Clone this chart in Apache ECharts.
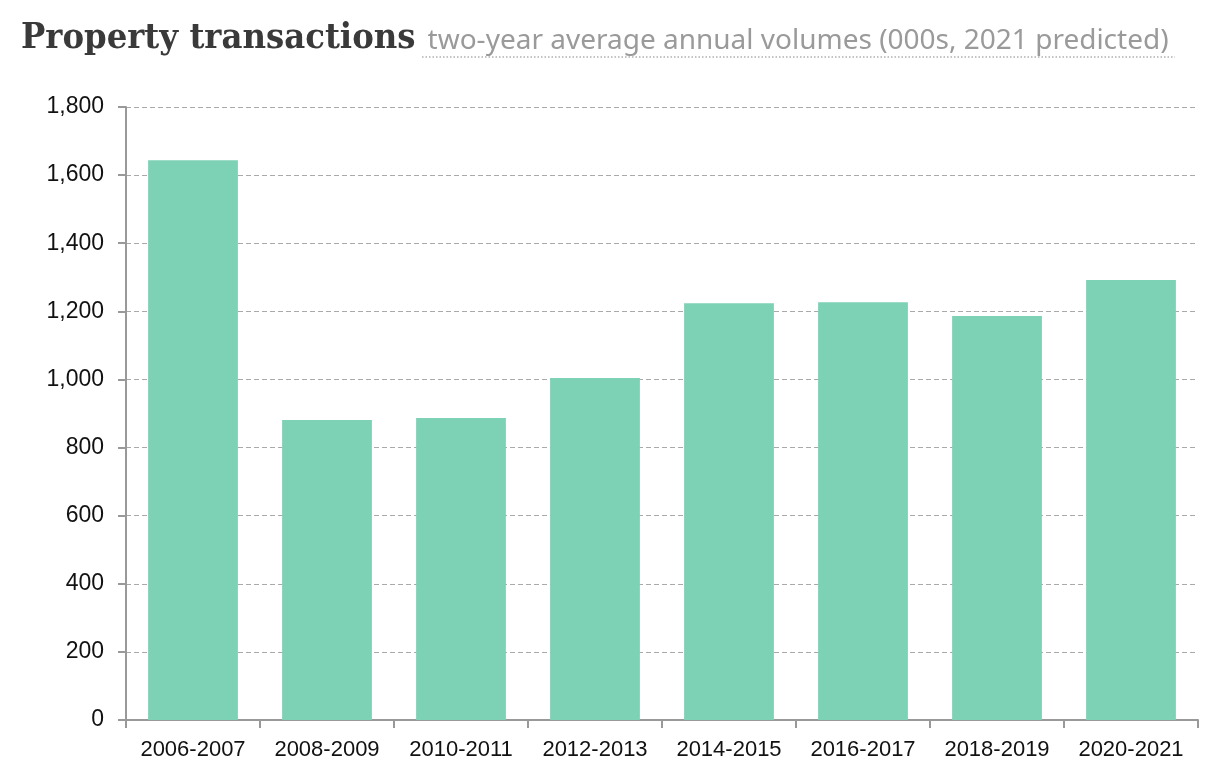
<!DOCTYPE html>
<html><head><meta charset="utf-8">
<script src="https://cdn.jsdelivr.net/npm/echarts@6/dist/echarts.min.js"></script>
<style>html,body{margin:0;padding:0;background:#fff}#c{width:1228px;height:780px}</style>
</head><body><div id="c"></div>
<script>
var categories = ['2006-2007','2008-2009','2010-2011','2012-2013','2014-2015','2016-2017','2018-2019','2020-2021'];
var volumes = [1644, 881, 887, 1004, 1224, 1227, 1186, 1292];
var titleMain = 'Property transactions';
var titleSub = 'two-year average annual volumes (000s, 2021 predicted)';

var chart = echarts.init(document.getElementById('c'));
chart.setOption({
  animation: false,
  title: {
    text: '{a|' + titleMain + '}{s|}{b|' + titleSub + '}',
    left: 16, top: 16,
    textStyle: {
      rich: {
        a: {fontFamily: 'DejaVu Serif Condensed', fontWeight: 'bold', fontSize: 36, color: '#3a3a3a'},
        s: {width: 12},
        b: {fontFamily: 'Noto Sans', fontWeight: 'normal', fontSize: 28, color: '#9a9a9a', padding: [5, 0, 0, 0]}
      }
    }
  },
  grid: {left: 126, right: 30, top: 107, bottom: 60},
  xAxis: {
    type: 'category',
    data: categories,
    axisLine: {lineStyle: {color: '#999', width: 2}},
    axisTick: {show: true, interval: 0, length: 8, lineStyle: {color: '#999', width: 2}},
    axisLabel: {interval: 0, color: '#111', fontFamily: 'Liberation Sans', fontSize: 22, margin: 19}
  },
  yAxis: {
    type: 'value',
    min: 0, max: 1800, interval: 200,
    axisLine: {show: true, lineStyle: {color: '#999', width: 2}},
    axisTick: {show: true, length: 8, lineStyle: {color: '#999', width: 2}},
    splitLine: {lineStyle: {color: '#aaa', type: [5, 3], width: 1}},
    axisLabel: {color: '#111', fontFamily: 'Liberation Sans', fontSize: 23, margin: 22,
      formatter: function (v) { return v.toLocaleString('en-US'); }}
  },
  series: [{
    type: 'bar',
    data: volumes,
    barWidth: '67%',
    itemStyle: {color: '#7dd1b5'}
  }],
  graphic: [{
    type: 'line',
    shape: {x1: 422, y1: 57, x2: 1175, y2: 57},
    style: {stroke: '#b0b0b0', lineWidth: 1.5, lineDash: [1.5, 2]}
  }]
});
</script></body></html>
